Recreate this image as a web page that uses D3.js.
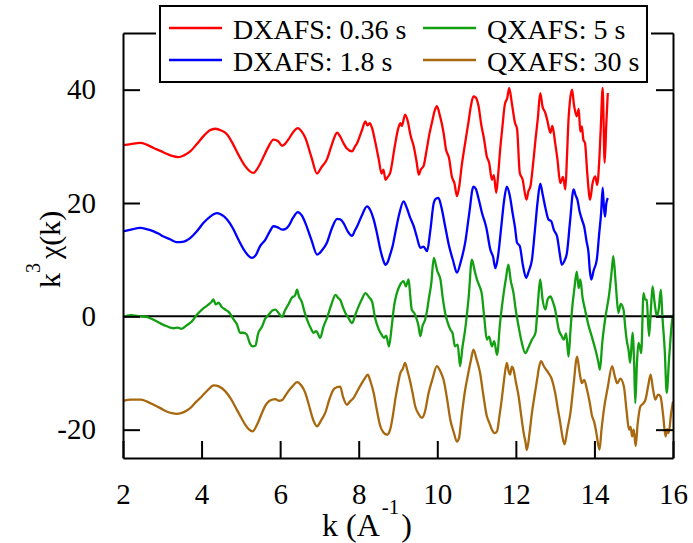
<!DOCTYPE html>
<html>
<head>
<meta charset="utf-8">
<script src="https://cdn.jsdelivr.net/npm/d3@7"></script>
<style>
  body { margin: 0; background: #fff; }
  svg text { font-family: "Liberation Serif", "Times New Roman", serif; fill: #000; }
</style>
</head>
<body>
<div class="chart-container"></div>
<script>
// k (1/A), k^3 chi(k) (curves are offset as in the original)
const dxafsFast = [[2.00,30.2],[2.20,30.4],[2.44,30.6],[2.60,30.3],[2.78,29.7],[2.95,29.2],[3.11,28.7],[3.25,28.3],[3.41,28.1],[3.55,28.4],[3.71,29.1],[3.88,30.4],[4.05,31.8],[4.20,32.8],[4.35,33.1],[4.50,32.8],[4.65,32.1],[4.80,30.4],[4.94,28.5],[5.10,26.6],[5.32,25.3],[5.45,26.4],[5.58,28.2],[5.70,29.9],[5.83,31.2],[5.95,30.9],[6.05,30.1],[6.12,30.4],[6.21,31.2],[6.33,32.5],[6.45,33.2],[6.55,32.6],[6.64,31.5],[6.80,28.0],[6.94,25.2],[7.05,26.3],[7.19,27.7],[7.32,30.4],[7.45,32.4],[7.53,31.7],[7.61,30.6],[7.70,29.6],[7.83,29.1],[7.90,29.9],[7.96,30.6],[8.08,32.8],[8.17,34.4],[8.22,33.7],[8.28,34.1],[8.34,33.2],[8.42,30.8],[8.51,27.7],[8.58,25.2],[8.63,25.9],[8.68,24.1],[8.74,24.6],[8.80,25.3],[8.92,30.1],[9.00,33.0],[9.06,34.1],[9.10,33.6],[9.18,35.6],[9.25,34.4],[9.32,31.9],[9.40,30.0],[9.47,27.4],[9.53,25.0],[9.58,25.9],[9.65,26.5],[9.72,29.0],[9.80,32.2],[9.87,34.4],[9.93,36.2],[9.99,37.1],[10.06,35.6],[10.16,32.4],[10.22,29.5],[10.30,27.9],[10.37,24.7],[10.44,23.4],[10.50,21.2],[10.56,23.0],[10.62,26.5],[10.70,30.2],[10.79,34.1],[10.86,37.3],[10.92,38.8],[10.98,38.6],[11.05,37.1],[11.12,33.8],[11.19,31.3],[11.26,28.2],[11.32,27.1],[11.39,24.1],[11.44,24.9],[11.50,21.8],[11.55,25.0],[11.60,29.4],[11.66,33.6],[11.72,37.4],[11.78,38.5],[11.83,40.3],[11.90,37.5],[11.98,34.1],[12.03,33.1],[12.10,25.3],[12.17,24.2],[12.27,20.6],[12.32,22.1],[12.37,22.9],[12.44,27.0],[12.50,31.2],[12.56,35.0],[12.62,39.4],[12.68,37.0],[12.75,35.9],[12.80,34.6],[12.88,32.4],[12.93,33.6],[13.00,30.6],[13.06,27.6],[13.13,23.5],[13.20,24.6],[13.26,22.4],[13.30,28.0],[13.34,34.7],[13.38,38.2],[13.43,40.0],[13.48,37.3],[13.55,35.3],[13.60,36.6],[13.64,32.6],[13.68,33.5],[13.72,31.1],[13.76,30.6],[13.82,25.0],[13.89,20.6],[13.95,23.4],[14.02,24.7],[14.07,23.2],[14.12,27.1],[14.16,33.0],[14.21,40.3],[14.26,27.1],[14.30,33.6],[14.34,39.4]];
const dxafsSlow = [[2.00,15.0],[2.20,15.3],[2.44,15.6],[2.60,15.4],[2.78,15.0],[2.90,14.6],[3.03,14.1],[3.20,13.6],[3.37,13.1],[3.55,13.2],[3.71,13.8],[3.88,15.0],[4.05,16.5],[4.22,17.6],[4.39,18.2],[4.52,17.9],[4.65,17.1],[4.80,15.5],[4.94,13.5],[5.10,11.5],[5.28,10.3],[5.38,10.8],[5.49,12.4],[5.62,13.5],[5.73,14.9],[5.83,15.9],[5.94,15.7],[6.05,15.3],[6.13,15.4],[6.21,15.9],[6.33,17.4],[6.45,18.4],[6.55,17.8],[6.64,16.5],[6.80,13.4],[6.94,10.9],[7.06,11.6],[7.19,13.0],[7.32,15.6],[7.45,17.2],[7.53,17.1],[7.61,16.5],[7.72,15.0],[7.83,14.2],[7.90,15.1],[7.96,15.9],[8.08,17.8],[8.21,19.4],[8.29,18.8],[8.38,17.1],[8.46,14.8],[8.55,11.8],[8.62,10.0],[8.68,9.1],[8.74,9.6],[8.80,10.9],[8.87,12.6],[8.93,14.7],[9.03,18.0],[9.14,20.3],[9.22,19.2],[9.30,17.6],[9.40,15.9],[9.48,14.0],[9.57,12.1],[9.65,12.3],[9.74,11.5],[9.82,15.0],[9.91,20.0],[9.97,20.8],[10.03,20.9],[10.10,19.4],[10.20,15.9],[10.30,12.4],[10.40,9.9],[10.50,7.7],[10.60,9.7],[10.71,13.0],[10.81,18.0],[10.92,22.9],[10.98,22.5],[11.05,20.8],[11.14,18.2],[11.25,15.6],[11.35,11.8],[11.42,10.5],[11.48,8.5],[11.55,10.8],[11.63,15.9],[11.70,20.4],[11.77,22.9],[11.84,21.5],[11.92,18.1],[11.98,15.6],[12.03,13.0],[12.10,12.4],[12.18,9.0],[12.26,6.8],[12.33,8.0],[12.41,10.0],[12.48,14.8],[12.55,20.0],[12.62,23.4],[12.68,21.6],[12.75,19.2],[12.83,17.1],[12.90,16.8],[12.97,15.2],[13.05,14.1],[13.11,11.4],[13.17,9.1],[13.23,9.7],[13.30,11.2],[13.38,16.8],[13.47,22.4],[13.52,21.4],[13.57,20.5],[13.62,18.6],[13.68,17.1],[13.74,15.8],[13.80,13.2],[13.85,11.2],[13.88,8.3],[13.92,6.5],[13.98,8.1],[14.06,10.0],[14.12,14.5],[14.17,18.2],[14.21,22.7],[14.24,19.4],[14.27,17.6],[14.30,19.8],[14.34,20.9]];
const qxafsFast = [[2.00,-0.1],[2.20,0.2],[2.44,0.0],[2.60,-0.1],[2.78,-0.6],[3.03,-1.5],[3.28,-2.1],[3.40,-2.0],[3.49,-2.2],[3.62,-1.6],[3.75,-0.9],[3.88,0.3],[4.01,1.2],[4.14,1.9],[4.26,2.6],[4.30,3.0],[4.36,2.1],[4.43,2.4],[4.52,1.6],[4.60,1.2],[4.70,0.7],[4.82,-0.6],[4.90,-1.4],[4.98,-2.9],[5.06,-2.9],[5.15,-3.2],[5.22,-4.6],[5.30,-5.3],[5.37,-5.2],[5.44,-3.0],[5.54,-1.8],[5.62,-0.4],[5.71,0.3],[5.80,1.0],[5.88,1.2],[5.96,0.6],[6.05,-0.1],[6.12,1.0],[6.21,2.1],[6.30,3.3],[6.38,3.7],[6.43,4.7],[6.48,3.5],[6.55,2.6],[6.62,0.8],[6.72,-1.2],[6.78,-2.1],[6.85,-2.9],[6.92,-2.6],[7.02,-3.8],[7.10,-1.9],[7.19,-0.3],[7.30,2.0],[7.41,3.8],[7.47,3.3],[7.53,2.9],[7.60,1.6],[7.66,0.6],[7.74,-0.3],[7.83,-1.2],[7.92,0.4],[8.00,1.8],[8.08,3.0],[8.17,4.1],[8.26,3.4],[8.34,2.6],[8.42,-0.4],[8.51,-2.3],[8.58,-3.2],[8.64,-3.8],[8.70,-3.4],[8.77,-5.3],[8.84,-1.8],[8.90,1.8],[8.97,4.1],[9.05,5.5],[9.14,6.2],[9.20,5.3],[9.27,6.5],[9.31,3.8],[9.35,1.2],[9.42,0.5],[9.48,-0.6],[9.52,-1.6],[9.57,-3.5],[9.62,-1.8],[9.69,-0.6],[9.74,1.0],[9.78,2.9],[9.85,6.0],[9.91,10.3],[10.00,8.0],[10.08,6.5],[10.14,3.2],[10.20,0.6],[10.27,-1.2],[10.33,-2.3],[10.39,-3.0],[10.45,-5.3],[10.52,-5.0],[10.58,-8.8],[10.64,-5.5],[10.71,-2.3],[10.80,3.5],[10.88,10.0],[10.95,8.1],[11.01,6.5],[11.07,5.4],[11.13,4.1],[11.20,-0.5],[11.26,-4.1],[11.32,-3.6],[11.39,-5.3],[11.45,-4.4],[11.52,-6.8],[11.60,-1.0],[11.69,4.1],[11.75,6.8],[11.81,9.1],[11.87,6.3],[11.94,4.1],[12.00,1.0],[12.07,-1.8],[12.15,-4.6],[12.24,-6.5],[12.32,-5.5],[12.41,-4.1],[12.50,-2.9],[12.56,2.2],[12.62,6.5],[12.68,3.0],[12.75,1.2],[12.81,3.0],[12.88,3.5],[12.94,2.6],[13.00,1.2],[13.05,-0.8],[13.09,-2.3],[13.16,-3.4],[13.22,-4.1],[13.28,-3.0],[13.34,-7.1],[13.39,-2.5],[13.43,1.2],[13.49,4.9],[13.55,7.9],[13.60,5.0],[13.64,6.5],[13.70,3.2],[13.76,1.2],[13.85,-1.6],[13.93,-3.5],[14.03,-6.0],[14.10,-8.1],[14.14,-9.4],[14.20,-4.6],[14.27,-0.6],[14.38,4.2],[14.44,8.0],[14.48,10.6],[14.54,6.0],[14.61,0.6],[14.67,2.2],[14.74,1.2],[14.78,-1.6],[14.82,-4.1],[14.87,-6.0],[14.91,-8.2],[14.97,-2.9],[15.01,-8.0],[15.04,-15.3],[15.08,-8.6],[15.12,-4.7],[15.16,-5.5],[15.19,-6.5],[15.25,4.1],[15.29,3.0],[15.33,2.9],[15.39,-3.5],[15.44,1.5],[15.48,5.3],[15.53,2.5],[15.59,0.0],[15.64,1.4],[15.69,4.7],[15.73,0.0],[15.79,-6.0],[15.84,-13.5],[15.90,-7.5],[15.97,-1.2],[16.00,0.3]];
const qxafsSlow = [[2.00,-14.9],[2.20,-14.7],[2.44,-14.7],[2.60,-15.0],[2.78,-15.6],[2.95,-16.2],[3.11,-16.8],[3.25,-17.1],[3.37,-17.2],[3.55,-16.9],[3.71,-16.2],[3.86,-15.1],[4.01,-14.1],[4.16,-13.0],[4.31,-12.2],[4.45,-12.4],[4.60,-13.2],[4.75,-14.6],[4.90,-16.5],[5.01,-17.9],[5.11,-19.1],[5.20,-19.9],[5.30,-20.3],[5.42,-19.0],[5.54,-17.0],[5.62,-15.8],[5.71,-15.0],[5.80,-14.7],[5.88,-14.6],[5.96,-14.9],[6.05,-14.8],[6.13,-14.0],[6.21,-13.2],[6.32,-12.3],[6.43,-11.6],[6.54,-12.2],[6.64,-13.5],[6.73,-15.6],[6.81,-17.6],[6.88,-18.9],[6.94,-19.4],[7.04,-18.4],[7.15,-17.0],[7.26,-14.5],[7.36,-12.9],[7.45,-12.5],[7.53,-12.4],[7.60,-14.2],[7.70,-15.6],[7.78,-15.0],[7.87,-14.4],[7.98,-13.0],[8.08,-11.8],[8.16,-10.9],[8.23,-10.3],[8.30,-11.5],[8.38,-13.5],[8.46,-16.5],[8.55,-19.4],[8.63,-20.5],[8.72,-20.9],[8.80,-20.0],[8.87,-17.5],[8.93,-14.7],[9.00,-12.0],[9.06,-10.0],[9.12,-9.3],[9.18,-8.2],[9.24,-9.6],[9.31,-11.5],[9.37,-13.5],[9.44,-15.9],[9.52,-17.2],[9.61,-17.9],[9.68,-17.0],[9.78,-13.5],[9.88,-11.0],[9.99,-8.8],[10.07,-9.6],[10.16,-11.2],[10.25,-14.6],[10.33,-18.2],[10.42,-20.5],[10.50,-22.1],[10.55,-21.6],[10.62,-17.6],[10.70,-13.4],[10.79,-10.0],[10.86,-7.6],[10.92,-5.9],[11.00,-7.6],[11.09,-10.0],[11.17,-13.8],[11.26,-17.6],[11.32,-18.7],[11.39,-20.0],[11.46,-20.6],[11.52,-20.3],[11.58,-17.7],[11.64,-14.7],[11.70,-11.2],[11.77,-8.2],[11.81,-9.5],[11.85,-10.3],[11.90,-8.9],[11.94,-9.4],[12.00,-11.6],[12.07,-14.1],[12.13,-17.2],[12.20,-20.6],[12.25,-22.4],[12.28,-23.6],[12.35,-20.5],[12.41,-17.0],[12.48,-13.8],[12.54,-11.2],[12.59,-9.0],[12.64,-7.9],[12.72,-8.9],[12.83,-10.0],[12.92,-11.2],[13.00,-13.5],[13.07,-16.4],[13.13,-18.8],[13.18,-21.0],[13.24,-22.6],[13.31,-20.0],[13.39,-17.0],[13.47,-12.0],[13.56,-7.1],[13.62,-9.8],[13.68,-11.8],[13.74,-11.2],[13.81,-12.9],[13.88,-15.2],[13.94,-17.6],[14.00,-18.8],[14.05,-20.6],[14.09,-22.4],[14.13,-23.5],[14.18,-20.0],[14.24,-16.5],[14.34,-12.5],[14.45,-8.8],[14.52,-10.6],[14.58,-11.8],[14.66,-11.0],[14.75,-12.4],[14.82,-16.8],[14.88,-20.0],[14.92,-19.5],[14.96,-21.2],[15.00,-20.0],[15.05,-22.9],[15.10,-19.0],[15.17,-15.9],[15.24,-15.4],[15.30,-14.7],[15.37,-12.2],[15.43,-10.3],[15.49,-12.8],[15.55,-14.7],[15.62,-13.8],[15.68,-14.1],[15.75,-17.5],[15.81,-21.2],[15.85,-19.9],[15.89,-20.6],[15.95,-17.2],[16.00,-15.0]];

const seriesNames = ['DXAFS: 0.36 s', 'DXAFS: 1.8 s', 'QXAFS: 5 s', 'QXAFS: 30 s'];
const seriesColors = ['#ff0000', '#0000ff', '#12a012', '#a8680f'];
const seriesData = [dxafsFast, dxafsSlow, qxafsFast, qxafsSlow];
const xTicks = [2, 4, 6, 8, 10, 12, 14, 16];
const yTicks = [-20, 0, 20, 40];

const svg_width = 693;
const svg_height = 543;
const margin = { top: 33, right: 20, bottom: 85, left: 123 };
const chart_width = svg_width - margin.left - margin.right;
const chart_height = svg_height - margin.top - margin.bottom;
const serif = '"Liberation Serif", "Times New Roman", serif';

const svg = d3.select('.chart-container')
  .append('svg')
  .attr('width', svg_width)
  .attr('height', svg_height);
const g = svg.append('g')
  .attr('transform', `translate(${margin.left},${margin.top})`);

const xScale = d3.scaleLinear().domain([2, 16]).range([0, chart_width]);
const yScale = d3.scaleLinear().domain([-25, 50]).range([chart_height, 0]);

// zero line
g.append('line')
  .attr('x1', 0).attr('x2', chart_width)
  .attr('y1', yScale(0)).attr('y2', yScale(0))
  .attr('stroke', '#000').attr('stroke-width', 2);

// curves
const line = d3.line()
  .x(d => xScale(d[0]))
  .y(d => yScale(d[1]))
  .curve(d3.curveMonotoneX);
g.selectAll('.curve')
  .data(seriesData)
  .join('path')
  .attr('class', 'curve')
  .attr('fill', 'none')
  .attr('stroke', (d, i) => seriesColors[i])
  .attr('stroke-width', 2.3)
  .attr('stroke-linejoin', 'round')
  .attr('d', line);

// axes (ticks point inward)
const tickLen = 17;
const plain = d => String(d);
const xAxis = g.append('g')
  .attr('transform', `translate(0,${chart_height})`)
  .call(d3.axisBottom(xScale).tickValues(xTicks).tickFormat(plain).tickSizeInner(-tickLen).tickSizeOuter(0).tickPadding(tickLen + 8));
const yAxis = g.append('g')
  .call(d3.axisLeft(yScale).tickValues(yTicks).tickFormat(plain).tickSizeInner(-tickLen).tickSizeOuter(0).tickPadding(tickLen + 10));
const yAxisR = g.append('g')
  .attr('transform', `translate(${chart_width},0)`)
  .call(d3.axisRight(yScale).tickValues(yTicks).tickSizeInner(-tickLen).tickSizeOuter(0).tickFormat(''));
const xAxisT = g.append('g')
  .call(d3.axisTop(xScale).tickValues([]).tickSizeOuter(0));
[xAxis, yAxis, yAxisR, xAxisT].forEach(a => {
  a.attr('font-family', serif).attr('font-size', 29);
  a.selectAll('path, line').attr('stroke', '#000').attr('stroke-width', 2);
  a.selectAll('text').style('font-size', '29px').style('font-family', serif);
});

// axis titles
const xTitle = svg.append('text')
  .attr('x', 322)
  .attr('y', 536)
  .style('font-size', '32px');
xTitle.append('tspan').text('k (A');
xTitle.append('tspan').text('-1').attr('dy', -22).attr('dx', 2).style('font-size', '21px');
xTitle.append('tspan').text(')').attr('dy', 22).attr('dx', 2);

const yTitle = svg.append('text')
  .attr('transform', 'translate(60,288) rotate(-90)')
  .style('font-size', '30px');
yTitle.append('tspan').text('k');
yTitle.append('tspan').text('3').attr('dy', -20).style('font-size', '20px');
yTitle.append('tspan').text('χ(k)').attr('dy', 20).attr('dx', 4);

// legend
const legend = svg.append('g').attr('class', 'legend');
legend.append('rect')
  .attr('x', 156).attr('y', 2).attr('width', 495).attr('height', 84)
  .attr('fill', '#fff');
legend.append('rect')
  .attr('x', 160).attr('y', 6).attr('width', 487).attr('height', 76)
  .attr('fill', '#fff').attr('stroke', '#000').attr('stroke-width', 2);
const legendPos = [[169, 28], [169, 60], [423, 28], [423, 60]];
seriesNames.forEach((name, i) => {
  const [lx, ly] = legendPos[i];
  legend.append('line')
    .attr('x1', lx).attr('x2', lx + 53)
    .attr('y1', ly).attr('y2', ly)
    .attr('stroke', seriesColors[i]).attr('stroke-width', 2.3);
  legend.append('text')
    .attr('x', lx + 64).attr('y', ly + 11)
    .style('font-size', '28px')
    .text(name);
});
</script>
</body>
</html>
